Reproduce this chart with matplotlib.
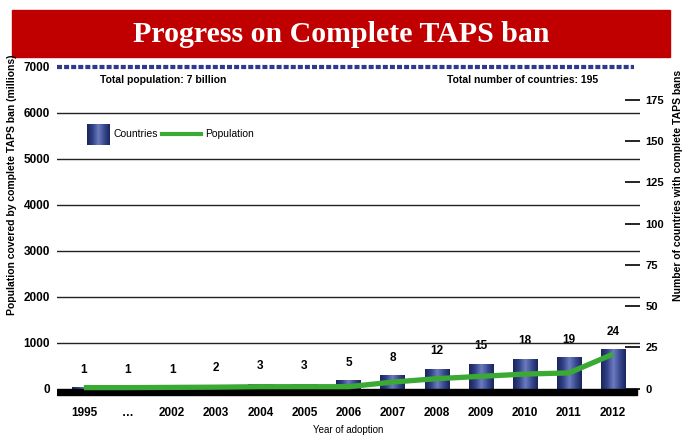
import numpy as np
import matplotlib
matplotlib.use("Agg")
import matplotlib.pyplot as plt
from matplotlib.colors import LinearSegmentedColormap
from matplotlib.patches import Rectangle

years = ["1995", "\u2026", "2002", "2003", "2004", "2005", "2006",
         "2007", "2008", "2009", "2010", "2011", "2012"]
countries = [1, 1, 1, 2, 3, 3, 5, 8, 12, 15, 18, 19, 24]
population = [20, 20, 25, 30, 40, 40, 40, 140, 215, 265, 315, 340, 750]

TOTAL_POP = 7000
TOTAL_COUNTRIES = 195

plt.rcParams["font.family"] = ["Liberation Sans", "DejaVu Sans"]

fig = plt.figure(figsize=(6.82, 4.36), dpi=100)

# red title banner
fig.patches.append(Rectangle((12/682, 1-57/436), 658/682, 47/436,
                             transform=fig.transFigure, color="#c00000", zorder=0))
fig.text(0.5, 1-35/436, "Progress on Complete TAPS ban", color="white",
         ha="center", va="center", fontsize=21.5, fontweight="bold",
         family=["Liberation Serif", "DejaVu Serif"])

ax = fig.add_axes([57/682, 0.0878, 583/682, 0.7691])
ax2 = ax.twinx()
ax.set_zorder(2)
ax2.set_zorder(1)
ax.patch.set_visible(False)

x = np.arange(len(years))
ymin, ymax = -200, 7100
k = TOTAL_POP / TOTAL_COUNTRIES

# bars (countries) on the right axis, with a gradient fill
cmap = LinearSegmentedColormap.from_list(
    "bar", ["#1a255c", "#33438a", "#6c7cbd", "#3b4b93", "#1a255c"])
grad = np.linspace(0, 1, 64).reshape(1, -1)
bars = ax2.bar(x, countries, width=0.55, color="#2c3b80", zorder=2)
for b in bars:
    im = ax2.imshow(grad, cmap=cmap, aspect="auto", zorder=3,
                    extent=(b.get_x(), b.get_x() + b.get_width(), 0, b.get_height()))
    im.set_clip_path(b)
for xi, c in zip(x, countries):
    ax2.annotate(str(c), (xi, c), xytext=(0, 12.5), textcoords="offset points",
                 ha="center", va="center", fontsize=8.5, fontweight="bold")

# population line
ax.plot(x, population, color="#3aaa35", lw=3.8, solid_capstyle="butt", zorder=5)

# grid lines and baseline
for v in range(1000, 7000, 1000):
    ax.axhline(v, color="#222222", lw=1.0, zorder=1)
ax.axhline(TOTAL_POP, xmax=0.99, color="#2e3b8c", lw=3, dashes=(1.2, 0.5),
           clip_on=False, zorder=1)
ax.axhspan(-130, 0, xmax=0.995, color="black", zorder=4)

ax.set_xlim(-0.61, 12.61)
ax.set_ylim(ymin, ymax)
ax2.set_ylim(ymin / k, ymax / k)

for a in (ax, ax2):
    for s in a.spines.values():
        s.set_visible(False)

ax.set_xticks(x)
ax.set_xticklabels(years, fontsize=8.5, fontweight="bold")
ax.set_yticks(range(0, 7001, 1000))
ax.set_yticklabels([str(v) for v in range(0, 7001, 1000)], fontsize=8.5, fontweight="bold")
ax.tick_params(axis="both", length=0, pad=5)
ax.tick_params(axis="x", pad=7)

ax2.set_yticks(range(0, 176, 25))
ax2.set_yticklabels([str(v) for v in range(0, 176, 25)], fontsize=8, fontweight="bold")
ax2.tick_params(axis="y", direction="in", length=11, width=1.2, pad=4)

ax.set_ylabel("Population covered by complete TAPS ban (millions)",
              fontsize=7.5, fontweight="bold")
ax.yaxis.set_label_coords(-0.068, 0.634)
ax2.set_ylabel("Number of countries with complete TAPS bans",
               fontsize=7.5, fontweight="bold")
ax2.yaxis.set_label_coords(1.056, 0.634)

fig.text(348/682, 1-430/436, "Year of adoption", ha="center", va="center", fontsize=7)

ax.text(100/682, 1-80/436, "Total population: 7 billion", transform=fig.transFigure,
        ha="left", va="center", fontsize=7.5, fontweight="bold")
ax.text(598/682, 1-80/436, "Total number of countries: 195", transform=fig.transFigure,
        ha="right", va="center", fontsize=7.5, fontweight="bold")

# legend
lax = fig.add_axes([87/682, 1-145/436, 23/682, 21/436])
lax.imshow(grad, cmap=cmap, aspect="auto")
lax.axis("off")
fig.text(113/682, 1-134/436, "Countries", ha="left", va="center", fontsize=7.5)
fig.lines.append(plt.Line2D([162/682, 201/682], [1-134/436, 1-134/436],
                            transform=fig.transFigure, color="#3aaa35", lw=3))
fig.text(205/682, 1-134/436, "Population", ha="left", va="center", fontsize=7.5)

fig.savefig("out.png", dpi=100)
